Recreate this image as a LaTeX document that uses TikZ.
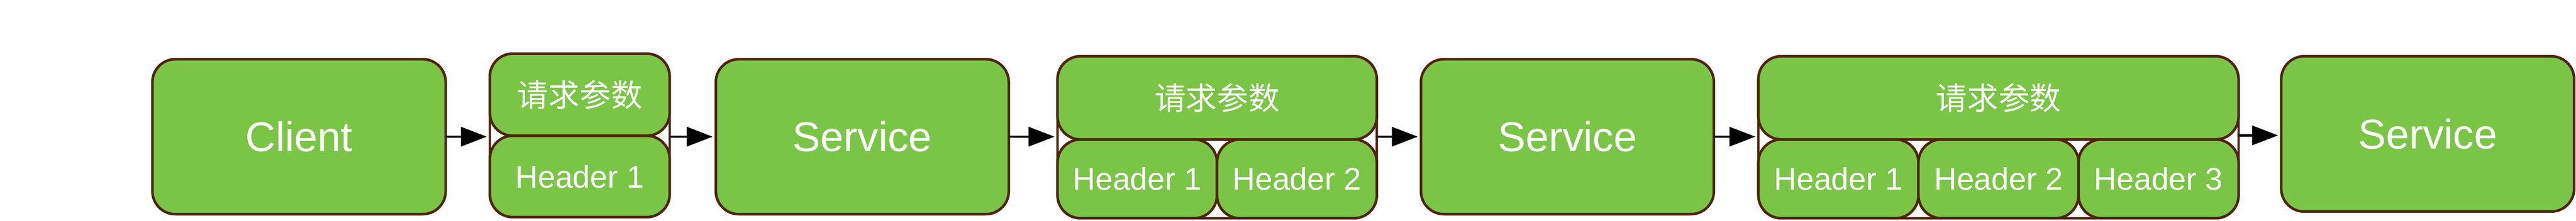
\documentclass[tikz,border=0pt]{standalone}
\usepackage{fontspec}
\setmainfont{Liberation Sans}
\newfontfamily\cjk{Noto Sans CJK SC}
\usepackage{tikz}
\usetikzlibrary{arrows.meta,positioning}
\definecolor{leaf}{RGB}{122,197,70}
\definecolor{bark}{RGB}{80,36,14}

\begin{document}
\begin{tikzpicture}[box/.style={rectangle, draw=bark, fill=leaf, line width=2pt, rounded corners=0.62cm, inner sep=0pt, text=white, font=\fontsize{32}{36}\selectfont},
  part/.style={box, font=\fontsize{24}{28}\selectfont},
  frame/.style={rectangle, draw=bark, fill=white, line width=1.8pt, rounded corners=0.62cm, inner sep=0pt},
  flow/.style={-{Triangle[length=0.7cm, width=0.52cm]}, line width=1.8pt, line cap=round, shorten >=0.05cm}]
  \useasboundingbox (0,0) rectangle (69.47,5.97);
  \node[box, minimum width=7.91cm, minimum height=4.19cm] (client) at (8.065,2.275) {Client};
  % first request: one header
  \node[frame, minimum width=4.85cm, minimum height=4.42cm] (g1) at (15.635,2.31) {};
  \node[part, minimum width=4.85cm, minimum height=2.22cm] (g1top) at (15.635,3.41) {\cjk 请求参数};
  \node[part, minimum width=4.85cm, minimum height=2.2cm] (g1h1) at (15.635,1.2) {Header 1};
  \node[box, minimum width=7.9cm, minimum height=4.19cm] (svc1) at (23.255,2.275) {Service};
  % second request: two headers
  \node[frame, minimum width=8.61cm, minimum height=4.38cm] (g2) at (32.825,2.26) {};
  \node[part, minimum width=8.61cm, minimum height=2.25cm] (g2top) at (32.825,3.325) {\cjk 请求参数};
  \node[part, minimum width=4.3cm, minimum height=2.13cm] (g2h1) at (30.67,1.135) {Header 1};
  \node[part, minimum width=4.31cm, minimum height=2.13cm] (g2h2) at (34.975,1.135) {Header 2};
  \node[box, minimum width=7.9cm, minimum height=4.19cm] (svc2) at (42.27,2.275) {Service};
  % third request: three headers
  \node[frame, minimum width=12.95cm, minimum height=4.38cm] (g3) at (53.895,2.26) {};
  \node[part, minimum width=12.95cm, minimum height=2.25cm] (g3top) at (53.895,3.325) {\cjk 请求参数};
  \node[part, minimum width=4.317cm, minimum height=2.13cm] (g3h1) at (49.578,1.135) {Header 1};
  \node[part, minimum width=4.317cm, minimum height=2.13cm] (g3h2) at (53.895,1.135) {Header 2};
  \node[part, minimum width=4.317cm, minimum height=2.13cm] (g3h3) at (58.212,1.135) {Header 3};
  \node[box, minimum width=7.9cm, minimum height=4.2cm] (svc3) at (65.47,2.35) {Service};

  \draw[flow] (client.east) -- (client.east -| g1.west);
  \draw[flow] (svc1.west -| g1.east) -- (svc1.west);
  \draw[flow] (svc1.east) -- (svc1.east -| g2.west);
  \draw[flow] (svc2.west -| g2.east) -- (svc2.west);
  \draw[flow] (svc2.east) -- (svc2.east -| g3.west);
  \draw[flow] (g3.east |- g1.center) -- (g1.center -| svc3.west);
\end{tikzpicture}
\end{document}
